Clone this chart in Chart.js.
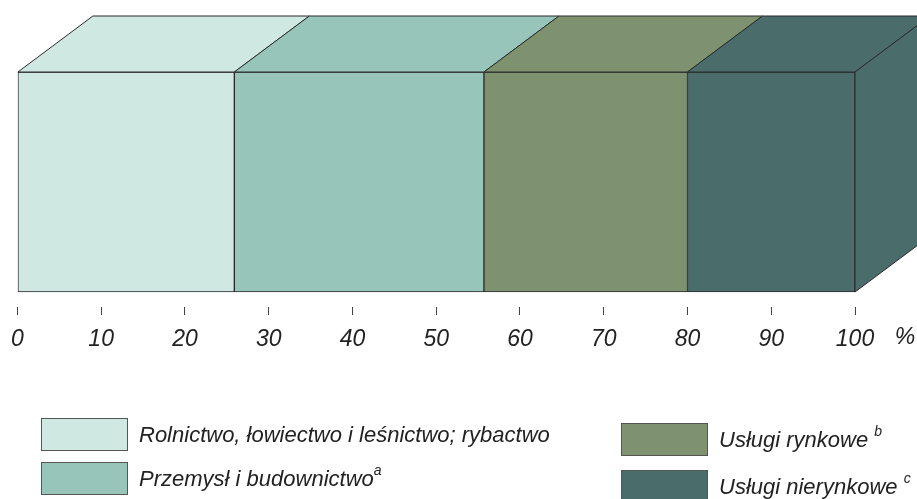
<!DOCTYPE html>
<html>
<head>
<meta charset="utf-8">
<script src="https://cdn.jsdelivr.net/npm/chart.js@4/dist/chart.umd.min.js"></script>
<style>
  html, body { margin: 0; padding: 0; background: #fff; }
  #wrap { position: relative; width: 917px; height: 499px; overflow: hidden; }
  canvas { position: absolute; left: 0; top: 0; }
  .lg { position: absolute; display: flex; align-items: center; font-family: 'Liberation Sans', Arial, sans-serif; font-style: italic; font-size: 22px; color: #222; white-space: nowrap; }
  .lg .box { width: 85px; height: 31px; border: 1px solid #555; margin-right: 11px; flex: none; }
  .lg sup { font-size: 14px; position: relative; top: -3px; }
</style>
</head>
<body>
<div id="wrap">
  <canvas id="chart" width="917" height="499"></canvas>
  <div id="legend"></div>
</div>
<script>
// sectors and their share of total (%)
const labels = ['Rolnictwo, łowiectwo i leśnictwo; rybactwo', 'Przemysł i budownictwo', 'Usługi rynkowe', 'Usługi nierynkowe'];
const notes = ['', 'a', 'b', 'c'];
const values = [25.9, 29.8, 24.3, 20.0];
const colors = ['#d0e8e2', '#98c5ba', '#7e9270', '#4a6d6c'];
const tickLabels = ['0', '10', '20', '30', '40', '50', '60', '70', '80', '90', '100'];

const FONT = "'Liberation Sans', Arial, sans-serif";
const DX = 75, DY = 56; // depth of the 3d box

// draws top face + right side so the bar looks like a block
const boxPlugin = {
  id: 'box3d',
  afterDatasetsDraw(chart) {
    const ctx = chart.ctx;
    const n = chart.data.datasets.length;
    ctx.save();
    ctx.lineWidth = 1;
    ctx.strokeStyle = '#2b2b2b';
    chart.data.datasets.forEach((ds, i) => {
      const el = chart.getDatasetMeta(i).data[0];
      const top = el.y - el.height / 2;
      const bottom = el.y + el.height / 2;
      const left = Math.min(el.base, el.x);
      const right = Math.max(el.base, el.x);
      ctx.fillStyle = ds.backgroundColor;
      ctx.beginPath();
      ctx.moveTo(left, top);
      ctx.lineTo(right, top);
      ctx.lineTo(right + DX, top - DY);
      ctx.lineTo(left + DX, top - DY);
      ctx.closePath();
      ctx.fill();
      ctx.stroke();
      if (i === n - 1) {
        ctx.beginPath();
        ctx.moveTo(right, top);
        ctx.lineTo(right + DX, top - DY);
        ctx.lineTo(right + DX, bottom - DY);
        ctx.lineTo(right, bottom);
        ctx.closePath();
        ctx.fill();
        ctx.stroke();
      }
    });
    // unit label next to the last tick
    const xs = chart.scales.x;
    ctx.fillStyle = '#222';
    ctx.font = 'italic 23px ' + FONT;
    ctx.textAlign = 'center';
    ctx.textBaseline = 'middle';
    ctx.fillText('%', xs.right + 50, 338);
    ctx.restore();
  }
};

new Chart(document.getElementById('chart'), {
  type: 'bar',
  data: {
    labels: [''],
    datasets: values.map((v, i) => ({
      label: labels[i],
      data: [v],
      backgroundColor: colors[i],
      borderColor: '#2b2b2b',
      borderWidth: 1,
      borderSkipped: false,
      barThickness: 220
    }))
  },
  options: {
    indexAxis: 'y',
    responsive: false,
    animation: false,
    layout: { padding: { top: 57, left: 16.5, right: 62, bottom: 142 } },
    plugins: { legend: { display: false }, tooltip: { enabled: false } },
    scales: {
      x: {
        stacked: true,
        min: 0,
        max: 100,
        afterFit(scale) { scale.height = 50; },
        afterBuildTicks(scale) {
          scale.ticks = tickLabels.map(t => ({ value: Number(t) }));
        },
        border: { display: false },
        grid: { drawOnChartArea: false, drawTicks: true, tickLength: 8, color: '#444' },
        ticks: {
          padding: 11,
          color: '#222',
          maxRotation: 0,
          font: { family: FONT, size: 23, style: 'italic' },
          callback: (v) => String(v)
        }
      },
      y: { stacked: true, display: false }
    }
  },
  plugins: [boxPlugin]
});

// legend in two columns like the original
const legendPos = [[41, 418], [41, 462], [621, 423], [621, 470]];
const legendEl = document.getElementById('legend');
labels.forEach((l, i) => {
  const d = document.createElement('div');
  d.className = 'lg';
  d.style.left = legendPos[i][0] + 'px';
  d.style.top = legendPos[i][1] + 'px';
  const sup = notes[i] ? (i === 1 ? '<sup>' + notes[i] + '</sup>' : '&nbsp;<sup>' + notes[i] + '</sup>') : '';
  d.innerHTML = '<span class="box" style="background:' + colors[i] + '"></span><span>' + l + sup + '</span>';
  legendEl.appendChild(d);
});
</script>
</body>
</html>
